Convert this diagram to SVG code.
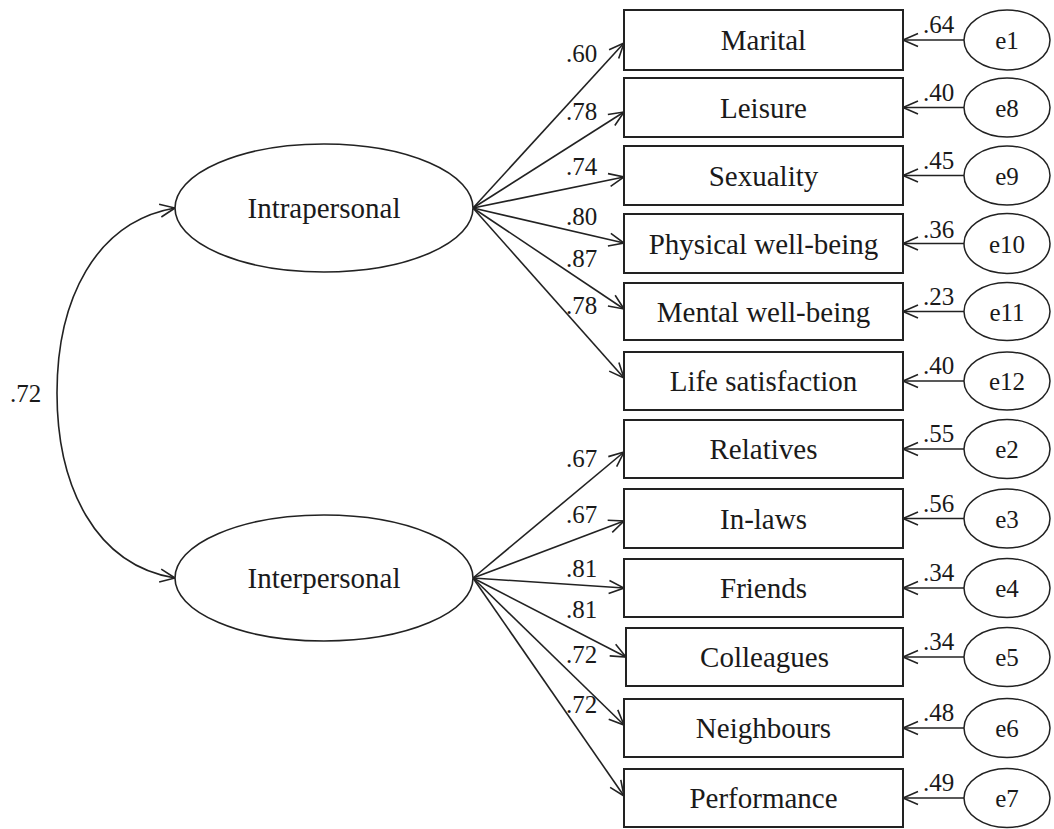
<svg xmlns="http://www.w3.org/2000/svg" width="1054" height="829" viewBox="0 0 1054 829">
<defs>
<marker id="ah" viewBox="-17 -8 19 16" refX="0" refY="0" markerWidth="19" markerHeight="16" markerUnits="userSpaceOnUse" orient="auto-start-reverse">
<path d="M-15,-6.5 L0,0 L-15,6.5" fill="none" stroke="#222" stroke-width="1.6"/>
</marker>
<style>
text{font-family:"Liberation Serif","Times New Roman",serif;fill:#1a1a1a}
.box{fill:#fff;stroke:#222;stroke-width:2}
.lat{fill:#fff;stroke:#222;stroke-width:1.6}
.err{fill:#fff;stroke:#222;stroke-width:1.5}
.bt{font-size:29px;text-anchor:middle}
.et{font-size:25px;text-anchor:middle}
.lb{font-size:25px}
.ln{fill:none;stroke:#222;stroke-width:1.6;marker-end:url(#ah)}
</style>
</defs>
<rect width="1054" height="829" fill="#fff"/>

<g id="connectors">
<path class="ln" d="M175,208 C95,222 57,300 57,393 C57,486 95,565 175,578" marker-start="url(#ah)"/>
<line class="ln" x1="473" y1="208" x2="624" y2="43"/>
<line class="ln" x1="473" y1="208" x2="624" y2="112"/>
<line class="ln" x1="473" y1="208" x2="624" y2="177"/>
<line class="ln" x1="473" y1="208" x2="624" y2="243"/>
<line class="ln" x1="473" y1="208" x2="624" y2="309"/>
<line class="ln" x1="473" y1="208" x2="624" y2="378"/>
<line class="ln" x1="473" y1="578" x2="624" y2="452"/>
<line class="ln" x1="473" y1="578" x2="624" y2="521"/>
<line class="ln" x1="473" y1="578" x2="624" y2="588"/>
<line class="ln" x1="473" y1="578" x2="626" y2="657"/>
<line class="ln" x1="473" y1="578" x2="624" y2="725"/>
<line class="ln" x1="473" y1="578" x2="624" y2="796"/>
<line class="ln" x1="964" y1="40" x2="903" y2="40"/>
<line class="ln" x1="964" y1="107.5" x2="903" y2="107.5"/>
<line class="ln" x1="964" y1="175.5" x2="903" y2="175.5"/>
<line class="ln" x1="964" y1="243.5" x2="903" y2="243.5"/>
<line class="ln" x1="964" y1="311.5" x2="903" y2="311.5"/>
<line class="ln" x1="964" y1="381" x2="903" y2="381"/>
<line class="ln" x1="964" y1="449" x2="903" y2="449"/>
<line class="ln" x1="964" y1="518.5" x2="903" y2="518.5"/>
<line class="ln" x1="964" y1="588" x2="903" y2="588"/>
<line class="ln" x1="964" y1="657" x2="903" y2="657"/>
<line class="ln" x1="964" y1="728" x2="903" y2="728"/>
<line class="ln" x1="964" y1="798" x2="903" y2="798"/>
<text class="lb" x="10" y="402">.72</text>
<text class="lb" x="566" y="62">.60</text>
<text class="lb" x="566" y="120">.78</text>
<text class="lb" x="566" y="175">.74</text>
<text class="lb" x="566" y="225">.80</text>
<text class="lb" x="566" y="267">.87</text>
<text class="lb" x="566" y="314">.78</text>
<text class="lb" x="566" y="467">.67</text>
<text class="lb" x="566" y="523">.67</text>
<text class="lb" x="566" y="577">.81</text>
<text class="lb" x="566" y="618">.81</text>
<text class="lb" x="566" y="663">.72</text>
<text class="lb" x="566" y="713">.72</text>
<text class="lb" x="923" y="33">.64</text>
<text class="lb" x="923" y="101">.40</text>
<text class="lb" x="923" y="169">.45</text>
<text class="lb" x="923" y="238">.36</text>
<text class="lb" x="923" y="305">.23</text>
<text class="lb" x="923" y="374">.40</text>
<text class="lb" x="923" y="442">.55</text>
<text class="lb" x="923" y="512">.56</text>
<text class="lb" x="923" y="581">.34</text>
<text class="lb" x="923" y="650">.34</text>
<text class="lb" x="923" y="721">.48</text>
<text class="lb" x="923" y="791">.49</text>
</g>

<g id="intrapersonal"><ellipse class="lat" cx="324" cy="208" rx="149" ry="64"/><text class="bt" x="324" y="218">Intrapersonal</text></g>
<g id="interpersonal"><ellipse class="lat" cx="324" cy="578" rx="149" ry="63"/><text class="bt" x="324" y="588">Interpersonal</text></g>

<g id="marital"><rect class="box" x="624" y="10" width="279" height="60"/><text class="bt" x="763.5" y="50">Marital</text></g>
<g id="leisure"><rect class="box" x="624" y="78" width="279" height="59"/><text class="bt" x="763.5" y="117.5">Leisure</text></g>
<g id="sexuality"><rect class="box" x="624" y="146" width="279" height="59"/><text class="bt" x="763.5" y="185.5">Sexuality</text></g>
<g id="physical"><rect class="box" x="624" y="214" width="279" height="59"/><text class="bt" x="763.5" y="253.5">Physical well-being</text></g>
<g id="mental"><rect class="box" x="624" y="283" width="279" height="57"/><text class="bt" x="763.5" y="321.5">Mental well-being</text></g>
<g id="life"><rect class="box" x="624" y="352" width="279" height="58"/><text class="bt" x="763.5" y="391">Life satisfaction</text></g>
<g id="relatives"><rect class="box" x="624" y="420" width="279" height="58"/><text class="bt" x="763.5" y="459">Relatives</text></g>
<g id="inlaws"><rect class="box" x="624" y="489" width="279" height="59"/><text class="bt" x="763.5" y="528.5">In-laws</text></g>
<g id="friends"><rect class="box" x="624" y="559" width="279" height="58"/><text class="bt" x="763.5" y="598">Friends</text></g>
<g id="colleagues"><rect class="box" x="626" y="628" width="277" height="58"/><text class="bt" x="764.5" y="667">Colleagues</text></g>
<g id="neighbours"><rect class="box" x="624" y="699" width="279" height="58"/><text class="bt" x="763.5" y="738">Neighbours</text></g>
<g id="performance"><rect class="box" x="624" y="769" width="279" height="58"/><text class="bt" x="763.5" y="808">Performance</text></g>

<g id="e1"><ellipse class="err" cx="1007" cy="40" rx="43" ry="30"/><text class="et" x="1007" y="49">e1</text></g>
<g id="e8"><ellipse class="err" cx="1007" cy="107.5" rx="43" ry="29.5"/><text class="et" x="1007" y="116.5">e8</text></g>
<g id="e9"><ellipse class="err" cx="1007" cy="175.5" rx="43" ry="29.5"/><text class="et" x="1007" y="184.5">e9</text></g>
<g id="e10"><ellipse class="err" cx="1007" cy="243.5" rx="43" ry="30"/><text class="et" x="1007" y="252.5">e10</text></g>
<g id="e11"><ellipse class="err" cx="1007" cy="311.5" rx="43" ry="29"/><text class="et" x="1007" y="320.5">e11</text></g>
<g id="e12"><ellipse class="err" cx="1007" cy="381" rx="43" ry="29"/><text class="et" x="1007" y="390">e12</text></g>
<g id="e2"><ellipse class="err" cx="1007" cy="449" rx="43" ry="29.5"/><text class="et" x="1007" y="458">e2</text></g>
<g id="e3"><ellipse class="err" cx="1007" cy="518.5" rx="43" ry="29.5"/><text class="et" x="1007" y="527.5">e3</text></g>
<g id="e4"><ellipse class="err" cx="1007" cy="588" rx="43" ry="29.5"/><text class="et" x="1007" y="597">e4</text></g>
<g id="e5"><ellipse class="err" cx="1007" cy="657" rx="43" ry="29.5"/><text class="et" x="1007" y="666">e5</text></g>
<g id="e6"><ellipse class="err" cx="1007" cy="728" rx="43" ry="29.5"/><text class="et" x="1007" y="737">e6</text></g>
<g id="e7"><ellipse class="err" cx="1007" cy="798" rx="43" ry="29.5"/><text class="et" x="1007" y="807">e7</text></g>
</svg>
